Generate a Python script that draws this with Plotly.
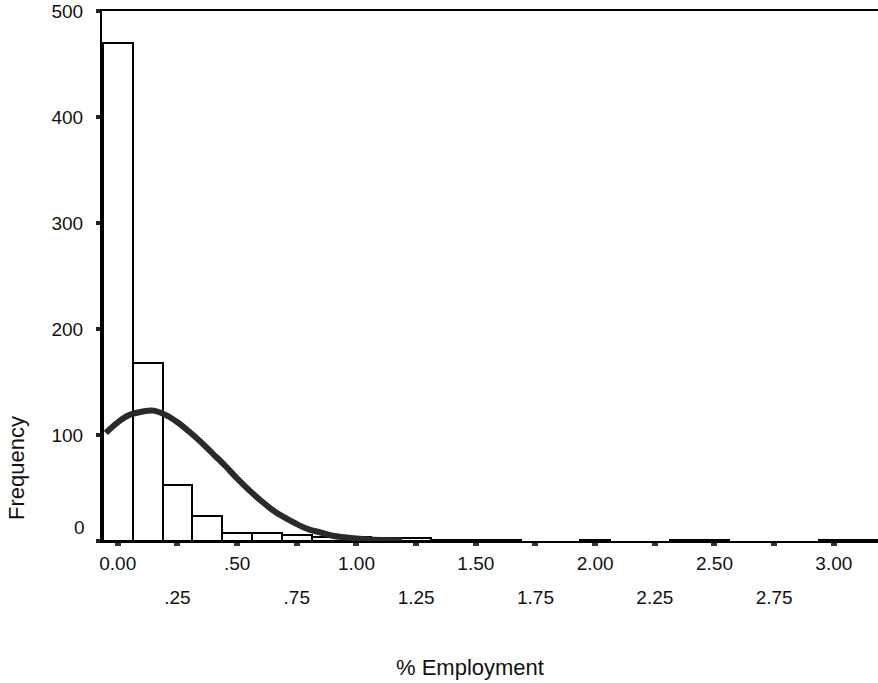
import plotly.graph_objects as go

# Histogram bins (bin centres, width 0.125) and frequencies
bin_centers = [0.0, 0.125, 0.25, 0.375, 0.5, 0.625, 0.75, 0.875, 1.0, 1.125,
               1.25, 1.375, 1.5, 1.625, 2.0, 2.375, 2.5, 3.0, 3.125]
frequencies = [470, 168, 53, 24, 8, 8, 6, 4, 4, 3,
               3, 1, 1, 1, 1, 1, 1, 1, 1]
bin_width = 0.125

# Normal curve points
curve_x = [-0.05, 0.0, 0.05, 0.10, 0.15, 0.20, 0.25, 0.30, 0.35, 0.40, 0.45, 0.50,
           0.55, 0.60, 0.65, 0.70, 0.75, 0.80, 0.85, 0.90, 0.95, 1.00, 1.05, 1.10,
           1.15, 1.19]
curve_y = [102, 112, 119, 122, 123, 119, 112, 103, 93, 82, 71, 59,
           48, 38, 29, 22, 16, 11, 8, 5, 3.5, 2.3, 1.5, 1.0,
           0.7, 0.5]

# Tick labels
x_row1_vals = [0.0, 0.5, 1.0, 1.5, 2.0, 2.5, 3.0]
x_row1_text = ["0.00", ".50", "1.00", "1.50", "2.00", "2.50", "3.00"]
x_row2_vals = [0.25, 0.75, 1.25, 1.75, 2.25, 2.75]
x_row2_text = [".25", ".75", "1.25", "1.75", "2.25", "2.75"]
y_tick_vals = [0, 100, 200, 300, 400, 500]
y_tick_text = ["", "100", "200", "300", "400", "500"]

x_title = "% Employment"
y_title = "Frequency"

FONT = "Liberation Sans, Arial, sans-serif"
XR = [-0.066, 3.185]

fig = go.Figure()
fig.add_trace(go.Bar(
    x=bin_centers, y=frequencies, width=bin_width,
    marker=dict(color="white", line=dict(color="black", width=2)),
    showlegend=False, hoverinfo="skip"))
fig.add_trace(go.Scatter(
    x=curve_x, y=curve_y, mode="lines",
    line=dict(color="#2a2a2a", width=6, shape="spline"),
    showlegend=False, hoverinfo="skip"))
# invisible trace to activate the second-row label axis
fig.add_trace(go.Scatter(x=[XR[0]], y=[0], xaxis="x2", mode="markers",
                         marker=dict(opacity=0), showlegend=False, hoverinfo="skip"))

all_x_ticks = sorted(x_row1_vals + x_row2_vals)
all_x_text = [x_row1_text[x_row1_vals.index(v)] if v in x_row1_vals else "" for v in all_x_ticks]

fig.update_layout(
    width=878, height=683,
    margin=dict(l=102, r=0, t=11, b=142),
    paper_bgcolor="white", plot_bgcolor="white",
    font=dict(family=FONT, size=19, color="#111"),
    bargap=0,
    xaxis=dict(
        range=XR, showgrid=False, zeroline=False,
        showline=True, linecolor="black", linewidth=2, mirror=True,
        tickmode="array", tickvals=all_x_ticks, ticktext=all_x_text,
        ticks="outside", ticklen=3, tickwidth=6, tickcolor="#333",
        ticklabelstandoff=1,
    ),
    xaxis2=dict(
        range=XR, overlaying="x", side="bottom", showgrid=False, zeroline=False,
        showline=False, tickmode="array", tickvals=x_row2_vals, ticktext=x_row2_text,
        ticks="", ticklabelstandoff=43,
    ),
    yaxis=dict(
        range=[0, 500], showgrid=False, zeroline=False,
        showline=True, linecolor="black", linewidth=2, mirror=False,
        tickmode="array", tickvals=y_tick_vals, ticktext=y_tick_text,
        ticks="outside", ticklen=4, tickwidth=4, tickcolor="#222",
        ticklabelstandoff=9,
    ),
    annotations=[
        dict(text="0", x=0, xref="paper", y=0, yref="y", xanchor="right",
             yanchor="middle", xshift=-15, yshift=14, showarrow=False,
             font=dict(family=FONT, size=19, color="#111")),
        dict(text=y_title, x=-0.1108, xref="paper", y=0.1377, yref="paper",
             textangle=-90, xanchor="center", yanchor="middle", showarrow=False,
             font=dict(family=FONT, size=22, color="#111")),
        dict(text=x_title, x=0.474, xref="paper", y=-0.2396, yref="paper",
             xanchor="center", yanchor="middle", showarrow=False,
             font=dict(family=FONT, size=22, color="#111")),
    ],
)

fig.write_html("out.html")
